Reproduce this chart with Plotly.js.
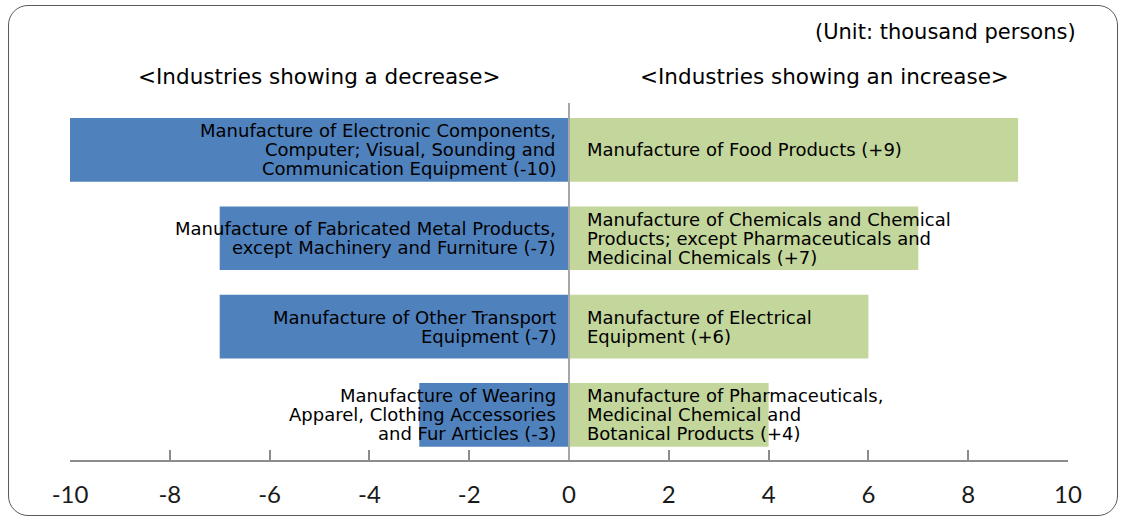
<!DOCTYPE html>
<html>
<head>
<meta charset="utf-8">
<script src="https://cdn.plot.ly/plotly-3.0.1.min.js"></script>
<style>
  html, body { margin: 0; padding: 0; background: #ffffff; }
  #wrap { position: relative; width: 1124px; height: 522px; }
  #frame { position: absolute; left: 8px; top: 5px; width: 1110px; height: 511px;
           border: 1.5px solid #5a5a5a; border-radius: 20px; box-sizing: border-box; pointer-events: none; }
  #chart { position: absolute; left: 0; top: 0; width: 1124px; height: 522px; }
</style>
</head>
<body>
<div id="wrap">
  <div id="chart"></div>
  <div id="frame"></div>
</div>
<script>
// ---- data ----
const rows = ["r1", "r2", "r3", "r4"];
const decreaseValues = [-10, -7, -7, -3];
const increaseValues = [9, 7, 6, 4];
const decreaseLabels = [
  "Manufacture of Electronic Components,<br>Computer; Visual, Sounding and<br>Communication Equipment (-10)",
  "Manufacture of Fabricated Metal Products,<br>except Machinery and Furniture (-7)",
  "Manufacture of Other Transport<br>Equipment (-7)",
  "Manufacture of Wearing<br>Apparel, Clothing Accessories<br>and Fur Articles (-3)"
];
const increaseLabels = [
  "Manufacture of Food Products (+9)",
  "Manufacture of Chemicals and Chemical<br>Products; except Pharmaceuticals and<br>Medicinal Chemicals (+7)",
  "Manufacture of Electrical<br>Equipment (+6)",
  "Manufacture of Pharmaceuticals,<br>Medicinal Chemical and<br>Botanical Products (+4)"
];
const tickValues = [-10, -8, -6, -4, -2, 0, 2, 4, 6, 8, 10];
const tickLabels = ["-10", "-8", "-6", "-4", "-2", "0", "2", "4", "6", "8", "10"];
const unitText = "(Unit: thousand persons)";
const leftHeader = "<Industries showing a decrease>";
const rightHeader = "<Industries showing an increase>";

// ---- chart ----
const FAMILY = "DejaVu Sans, Arial, sans-serif";
const labelFont = { family: FAMILY, size: 18, color: "#000000" };
const LINE_GAP = 19;

const traces = [
  { type: "bar", orientation: "h", y: rows, x: decreaseValues, width: 0.72,
    marker: { color: "#4F81BD" }, hoverinfo: "skip", showlegend: false },
  { type: "bar", orientation: "h", y: rows, x: increaseValues, width: 0.72,
    marker: { color: "#C3D69B" }, hoverinfo: "skip", showlegend: false }
];

const annotations = [];
function addLabel(row, label, side) {
  const lines = label.split("<br>");
  const n = lines.length;
  lines.forEach((ln, k) => {
    annotations.push({
      x: 0, y: row, xref: "x", yref: "y", text: ln, showarrow: false,
      xanchor: side === "left" ? "right" : "left", yanchor: "middle",
      align: side === "left" ? "right" : "left",
      xshift: side === "left" ? -11 : 16,
      yshift: ((n - 1) / 2 - k) * LINE_GAP,
      font: labelFont
    });
  });
}
rows.forEach((r, i) => {
  addLabel(r, decreaseLabels[i], "left");
  addLabel(r, increaseLabels[i], "right");
});
annotations.push({ x: 1.01, y: 1.199, xref: "paper", yref: "paper", text: unitText,
  showarrow: false, xanchor: "right", yanchor: "middle",
  font: { family: FAMILY, size: 21, color: "#000" } });
annotations.push({ x: -5, y: 1.073, xref: "x", yref: "paper", text: leftHeader,
  showarrow: false, xanchor: "center", yanchor: "middle",
  font: { family: FAMILY, size: 21.5, color: "#000" } });
annotations.push({ x: 5.13, y: 1.073, xref: "x", yref: "paper", text: rightHeader,
  showarrow: false, xanchor: "center", yanchor: "middle",
  font: { family: FAMILY, size: 21.5, color: "#000" } });

const layout = {
  width: 1124, height: 522,
  margin: { l: 70, r: 56, t: 103, b: 62, pad: 0 },
  paper_bgcolor: "rgba(0,0,0,0)", plot_bgcolor: "rgba(0,0,0,0)",
  barmode: "overlay",
  xaxis: {
    range: [-10, 10], tickvals: tickValues, ticktext: tickLabels,
    showgrid: false, zeroline: false, showline: true, linecolor: "#8c8c8c", linewidth: 2,
    ticks: "inside", ticklen: 10, tickwidth: 2, tickcolor: "#8c8c8c",
    ticklabelstandoff: 12,
    tickfont: { family: "Lato, Carlito, sans-serif", size: 24, color: "#1a1a1a" },
    fixedrange: true
  },
  yaxis: {
    type: "category", categoryarray: rows, range: [3.51, -0.53],
    showticklabels: false, showgrid: false, zeroline: false, showline: false, ticks: "",
    fixedrange: true
  },
  shapes: [
    { type: "line", xref: "x", yref: "paper", x0: 0, x1: 0, y0: 0, y1: 1,
      line: { color: "#a6a6a6", width: 2 }, layer: "above" }
  ],
  annotations: annotations,
  showlegend: false
};

Plotly.newPlot("chart", traces, layout, { displayModeBar: false, staticPlot: true });
</script>
</body>
</html>
